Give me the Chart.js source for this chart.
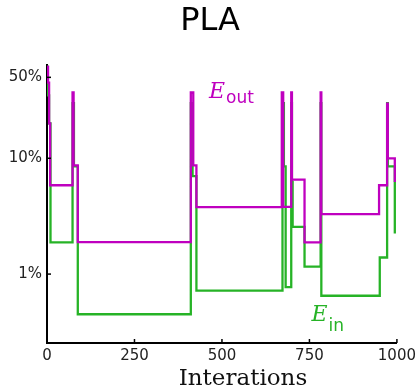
<!DOCTYPE html>
<html>
<head>
<meta charset="utf-8">
<script src="https://cdn.jsdelivr.net/npm/chart.js@4"></script>
<style>
  html, body { margin: 0; padding: 0; background: #fff; }
  #wrap { width: 420px; height: 388px; }
</style>
</head>
<body>
<div id="wrap"><canvas id="plaChart" width="420" height="388"></canvas></div>
<script>
// iterations where the value changes, and the new value after the change
const eOutIter = [0, 3, 6, 9, 73, 76, 88, 411, 418, 427, 671, 675, 698, 700, 736, 782, 784, 949, 972, 974, 994];
const eOutVal  = [0.62, 0.45, 0.2, 0.0585, 0.37, 0.087, 0.0189, 0.37, 0.087, 0.0378, 0.37, 0.038, 0.37, 0.0655, 0.0188, 0.37, 0.0329, 0.0585, 0.296, 0.1, 0.0625];

const eInIter = [0, 2, 6, 10, 73, 77, 88, 411, 416, 427, 673, 677, 682, 698, 700, 702, 736, 782, 784, 951, 972, 974, 994];
const eInVal  = [0.62, 0.35, 0.2, 0.0188, 0.3, 0.085, 0.0045, 0.3, 0.07, 0.0072, 0.3, 0.085, 0.0077, 0.3, 0.0625, 0.0256, 0.0116, 0.3, 0.0065, 0.0139, 0.3, 0.085, 0.0224];

const xTicks = [0, 250, 500, 750, 1000];
const yTicks = [0.01, 0.1, 0.5];
const yTickLabels = ['1%', '10%', '50%'];

function toPoints(xs, ys){
    return xs.map((x, i) => ({x: x, y: ys[i]}));
}

const magenta = '#bf00bf';
const green = '#26b326';

// inward tick marks, axis title and the E_out / E_in labels
const extras = {
    id: 'extras',
    afterDraw(chart){
        const ctx = chart.ctx;
        const xs = chart.scales.x, ys = chart.scales.y;
        const area = chart.chartArea;
        ctx.save();
        ctx.strokeStyle = '#000';
        ctx.lineWidth = 1.5;
        xTicks.forEach(t => {
            const px = xs.getPixelForValue(t);
            ctx.beginPath();
            ctx.moveTo(px, area.bottom);
            ctx.lineTo(px, area.bottom - 4);
            ctx.stroke();
        });
        yTicks.forEach(t => {
            const py = ys.getPixelForValue(t);
            ctx.beginPath();
            ctx.moveTo(area.left, py);
            ctx.lineTo(area.left + 4, py);
            ctx.stroke();
        });

        ctx.fillStyle = '#111';
        ctx.font = '23px "DejaVu Serif"';
        ctx.textAlign = 'center';
        ctx.textBaseline = 'alphabetic';
        ctx.fillText('Interations', area.left + area.width * 0.56, 385);

        ctx.textAlign = 'left';
        // E_out
        let x0 = xs.getPixelForValue(463), y0 = ys.getPixelForValue(0.33);
        ctx.fillStyle = magenta;
        ctx.font = 'italic 22px "DejaVu Serif"';
        ctx.fillText('E', x0, y0);
        let w = ctx.measureText('E').width;
        ctx.font = '17px "DejaVu Sans"';
        ctx.fillText('out', x0 + w + 1, y0 + 5);
        // E_in
        x0 = xs.getPixelForValue(756); y0 = ys.getPixelForValue(0.0039);
        ctx.fillStyle = green;
        ctx.font = 'italic 22px "DejaVu Serif"';
        ctx.fillText('E', x0, y0);
        w = ctx.measureText('E').width;
        ctx.font = '17px "DejaVu Sans"';
        ctx.fillText('in', x0 + w + 1, y0 + 10);
        ctx.restore();
    }
};

Chart.defaults.font.family = '"DejaVu Sans"';
Chart.defaults.color = '#222';

let ctxPla = document.getElementById('plaChart').getContext('2d');

let chartPla = new Chart(ctxPla, {
    type: 'line',
    data: {
        datasets: [{
            label: 'E_out',
            data: toPoints(eOutIter, eOutVal),
            borderColor: magenta,
            borderWidth: 2.3,
            stepped: 'before',
            pointRadius: 0,
            fill: false
        }, {
            label: 'E_in',
            data: toPoints(eInIter, eInVal),
            borderColor: green,
            borderWidth: 2.3,
            stepped: 'before',
            pointRadius: 0,
            fill: false
        }]
    },
    options: {
        responsive: false,
        animation: false,
        layout: {
            padding: { left: 0, right: 0, top: 0, bottom: 0 }
        },
        plugins: {
            legend: { display: false },
            tooltip: { enabled: false },
            title: {
                display: true,
                text: 'PLA',
                color: '#000',
                font: { size: 32, weight: 'normal', family: '"DejaVu Sans"' },
                padding: { top: 2, bottom: 25 }
            }
        },
        scales: {
            x: {
                type: 'linear',
                min: 0,
                max: 1000,
                afterBuildTicks: (scale) => { scale.ticks = xTicks.map(v => ({value: v})); },
                afterFit: (scale) => { scale.height = 45; },
                grid: { display: false, drawTicks: false },
                border: { display: true, color: '#000', width: 2 },
                ticks: {
                    padding: 4,
                    maxRotation: 0,
                    font: { size: 15 },
                    callback: (v) => String(v)
                }
            },
            y: {
                type: 'logarithmic',
                min: 0.00254,
                max: 0.634,
                afterBuildTicks: (scale) => { scale.ticks = yTicks.map(v => ({value: v})); },
                afterFit: (scale) => { scale.width = 47; },
                grid: { display: false, drawTicks: false },
                border: { display: true, color: '#000', width: 2 },
                ticks: {
                    padding: 5,
                    font: { size: 15 },
                    callback: (v) => yTickLabels[yTicks.indexOf(v)]
                }
            },
            // empty right-hand strip so the plot ends at 1000 like the original
            yRight: {
                type: 'linear',
                position: 'right',
                afterFit: (scale) => { scale.width = 21; },
                grid: { display: false, drawTicks: false },
                border: { display: false },
                ticks: { display: false }
            }
        }
    },
    plugins: [extras]
});
</script>
</body>
</html>
